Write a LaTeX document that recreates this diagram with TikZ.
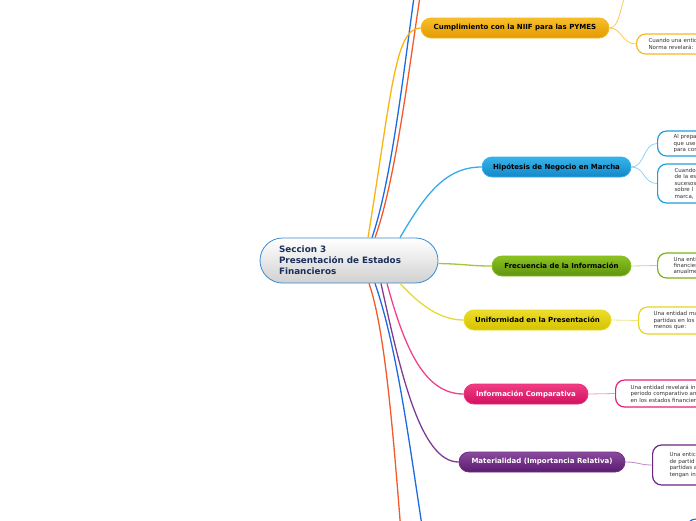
\documentclass[tikz,border=0pt]{standalone}
\usepackage{fontspec}
\setmainfont{DejaVu Sans}
\definecolor{ckT}{HTML}{F8BE2A}\definecolor{ckB}{HTML}{E49A00}\definecolor{ckD}{HTML}{F5B820}
\definecolor{ckL}{HTML}{F7B512}\definecolor{ckS}{HTML}{F9C85A}
\definecolor{chT}{HTML}{36B4EA}\definecolor{chB}{HTML}{1487C8}\definecolor{chD}{HTML}{3AB0E8}
\definecolor{chL}{HTML}{35ACE5}\definecolor{chS}{HTML}{8ED3F2}\definecolor{chC}{HTML}{1E9FE0}
\definecolor{cfT}{HTML}{8CC320}\definecolor{cfB}{HTML}{5F9410}\definecolor{cfD}{HTML}{86BC22}
\definecolor{cfL}{HTML}{A3C63C}\definecolor{cfS}{HTML}{BFD98A}\definecolor{cfC}{HTML}{7AB317}
\definecolor{cuT}{HTML}{EEDD2A}\definecolor{cuB}{HTML}{D4C200}\definecolor{cuD}{HTML}{E8D820}
\definecolor{cuL}{HTML}{E8D93A}\definecolor{cuS}{HTML}{F0E68A}\definecolor{cuC}{HTML}{E6D41E}
\definecolor{ciT}{HTML}{F23D85}\definecolor{ciB}{HTML}{D01060}\definecolor{ciD}{HTML}{EA2E78}
\definecolor{ciL}{HTML}{F0428A}\definecolor{ciS}{HTML}{F59DBF}\definecolor{ciC}{HTML}{E8207A}
\definecolor{cmT}{HTML}{8A4A9E}\definecolor{cmB}{HTML}{5A1C70}\definecolor{cmD}{HTML}{6E2E86}
\definecolor{cmL}{HTML}{7F3C95}\definecolor{cmS}{HTML}{B98AC6}\definecolor{cmC}{HTML}{6A2680}
\definecolor{cblue}{HTML}{1F6AE0}\definecolor{cred}{HTML}{F25A2C}
\definecolor{cnavy}{HTML}{1C2E5A}\definecolor{cborder}{HTML}{3A8AD0}
\definecolor{ctxt}{HTML}{333333}
\begin{document}
\begin{tikzpicture}[x=1pt,y=-1pt,
  branch/.style={rounded corners=10pt, minimum height=20pt, inner sep=0pt, line width=0.8pt,
    font=\fontsize{7}{8}\selectfont\bfseries},
  leaf/.style={draw=#1, line width=1.2pt, fill=white, rounded corners=9pt, anchor=west,
    align=left, inner xsep=15pt, inner ysep=0pt, text width=120pt, text=ctxt,
    font=\fontsize{5.5}{6.4}\selectfont},
  main/.style={line width=1.3pt},
  sub/.style={line width=0.8pt}]
\useasboundingbox (0,0) rectangle (696,520);
% central
\node[rounded corners=22.5pt, minimum width=178pt, minimum height=45pt, inner sep=0pt,
  top color=white, bottom color=black!18, draw=cborder, line width=0.8pt,
  text width=140pt, align=left, text=cnavy, font=\fontsize{8.8}{11}\selectfont\bfseries]
  (c) at (349,260.5) {Seccion 3\\Presentación de Estados\\Financieros};
% branches
\node[branch, top color=ckT, bottom color=ckB, draw=ckD, minimum width=188pt, text=black] (k) at (515,28) {Cumplimiento con la NIIF para las PYMES};
\node[branch, top color=chT, bottom color=chB, draw=chD, minimum width=149pt, text=black] (h) at (556.5,167) {Hipótesis de Negocio en Marcha};
\node[branch, top color=cfT, bottom color=cfB, draw=cfD, minimum width=139pt, text=black] (f) at (561.5,266) {Frecuencia de la Información};
\node[branch, top color=cuT, bottom color=cuB, draw=cuD, minimum width=147pt, text=black] (u) at (537.5,320) {Uniformidad en la Presentación};
\node[branch, top color=ciT, bottom color=ciB, draw=ciD, minimum width=124pt, text=white] (i) at (526,394) {Información Comparativa};
\node[branch, top color=cmT, bottom color=cmB, draw=cmD, minimum width=166pt, text=white] (m) at (542,462) {Materialidad (Importancia Relativa)};
% leaves
\node[leaf=ckD, inner xsep=12pt, minimum height=20pt] (k2) at (636,44) {Cuando una entid\\Norma revelará:};
\node[leaf=chC, inner xsep=16pt, minimum height=25pt] (h1) at (657,143.5) {Al prepa\\que use\\para cor};
\node[leaf=chC, inner xsep=17pt, minimum height=39pt] (h2) at (657,183.5) {Cuando\\de la es\\sucesos\\sobre l\\marca,};
\node[leaf=cfC, inner xsep=16pt, minimum height=25pt] (f1) at (657,265.5) {Una enti\\financier\\anualme};
\node[leaf=cuC, minimum height=27pt] (u1) at (638,320.5) {Una entidad ma\\partidas en los\\menos que:};
\node[leaf=ciC, minimum height=27pt] (i1) at (615,393.5) {Una entidad revelará in\\periodo comparativo an\\en los estados financier};
\node[leaf=cmC, inner xsep=17pt, minimum height=40pt] (m1) at (652,465) {Una entic\\de partid\\partidas a\\tengan in};
\node[leaf=cblue, minimum height=30pt, anchor=north west] (nb) at (686,518.5) {};
% free ends
\coordinate (tb) at (415,-10);
\coordinate (tr) at (421,-10);
\coordinate (bb) at (425,545);
\coordinate (br) at (402,545);
\coordinate (k1) at (626,-5);
% main connectors
\draw[main, cblue] ([xshift=23pt]c.north) .. controls (392,180) and (405,60) .. (tb);
\draw[main, cred] ([xshift=26pt]c.north) .. controls (396,180) and (410,60) .. (tr);
\draw[main, ckL] ([xshift=19pt]c.north) .. controls (392,90) and (395,28) .. (k.west);
\draw[main, chL] ([xshift=51pt]c.north) .. controls (425,195) and (445,167) .. (h.west);
\draw[main, cfL] ([yshift=-3pt]c.east) .. controls (465,264) and (470,266) .. (f.west);
\draw[main, cuL] ([xshift=51pt]c.south) .. controls (420,305) and (440,320) .. (u.west);
\draw[main, ciL] ([xshift=38pt]c.south) .. controls (405,350) and (425,394) .. (i.west);
\draw[main, cmL] ([xshift=32pt]c.south) .. controls (400,370) and (420,462) .. (m.west);
\draw[main, cblue] ([xshift=26pt]c.south) .. controls (398,350) and (410,450) .. (bb);
\draw[main, cred] ([xshift=20pt]c.south) .. controls (385,330) and (393,430) .. (br);
% sub connectors
\draw[sub, ckS] (k.east) .. controls (620,28) and (620,5) .. (k1);
\draw[sub, ckS] (k.east) .. controls (622,28) and (622,44) .. (k2.west);
\draw[sub, chS] (h.east) .. controls (645,167) and (643,143.5) .. (h1.west);
\draw[sub, chS] (h.east) .. controls (645,167) and (643,183.5) .. (h2.west);
\draw[sub, cfS] (f.east) -- (f1.west);
\draw[sub, cuS] (u.east) -- (u1.west);
\draw[sub, ciS] (i.east) -- (i1.west);
\draw[sub, cmS] (m.east) .. controls (638,462) and (640,465) .. (m1.west);
\end{tikzpicture}
\end{document}
